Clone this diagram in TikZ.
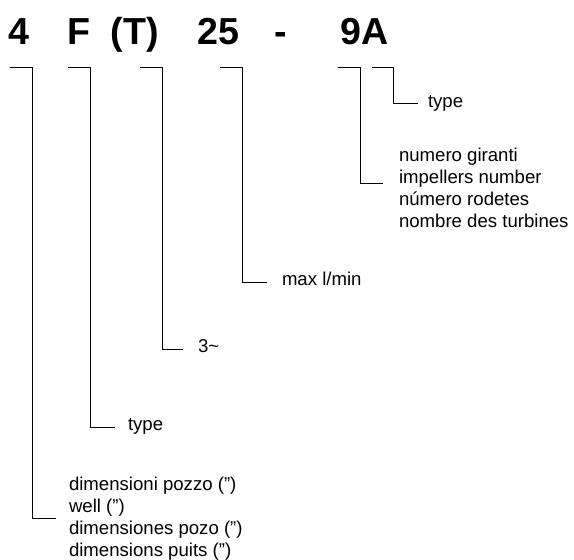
\documentclass[tikz,border=0pt]{standalone}
\usepackage{fontspec}
\setmainfont{Liberation Sans}
\usetikzlibrary{positioning}

\begin{document}
\begin{tikzpicture}[x=1bp,y=-1bp,line width=0.9bp,
  every node/.style={inner sep=0pt,outer sep=0pt},
  code/.style={font=\fontsize{37.6bp}{40bp}\selectfont\bfseries},
  lbl/.style={font=\fontsize{18.6bp}{22bp}\selectfont,align=left}]
\useasboundingbox (0,0) rectangle (574,560);

% code letters
\node[code,anchor=base west](c4) at (8,45){4};
\node[code](cF)[base right=39bp of c4]{F};
\node[code](cT)[base right=20bp of cF]{(T)};
\node[code](c25)[base right=39bp of cT]{25};
\node[code](cdash)[base right=35bp of c25]{-};
\node[code](c9A)[base right=53bp of cdash]{9A};

% bracket starts and ends
\coordinate (t1) at (10,67);  \coordinate (d1) at (56,518);
\coordinate (t2) at (68,67);  \coordinate (d2) at (115,427);
\coordinate (t3) at (140,67); \coordinate (d3) at (183,349);
\coordinate (t4) at (220,67); \coordinate (d4) at (267,282);
\coordinate (t5) at (338,67); \coordinate (d5) at (383,183);
\coordinate (t6) at (372,67); \coordinate (d6) at (418,103);

\node[lbl](l1)[right=13bp of d1,yshift=-1bp]{dimensioni pozzo (”)\\well (”)\\dimensiones pozo (”)\\dimensions puits (”)};
\node[lbl](l2)[mid right=13bp of d2,yshift=-1bp]{type};
\node[lbl](l3)[mid right=15bp of d3,yshift=-1bp]{3\textasciitilde};
\node[lbl](l4)[mid right=15bp of d4,yshift=-1bp]{max l/min};
\node[lbl](l5)[right=16bp of d5,yshift=-5bp]{numero giranti\\impellers number\\número rodetes\\nombre des turbines};
\node[lbl](l6)[mid right=10bp of d6,yshift=-2bp]{type};

\draw (t1) -- ++(22,0) |- (d1)
      (t2) -- ++(22,0) |- (d2)
      (t3) -- ++(22,0) |- (d3)
      (t4) -- ++(22,0) |- (d4)
      (t5) -- ++(22,0) |- (d5)
      (t6) -- ++(21,0) |- (d6);

\end{tikzpicture}
\end{document}
